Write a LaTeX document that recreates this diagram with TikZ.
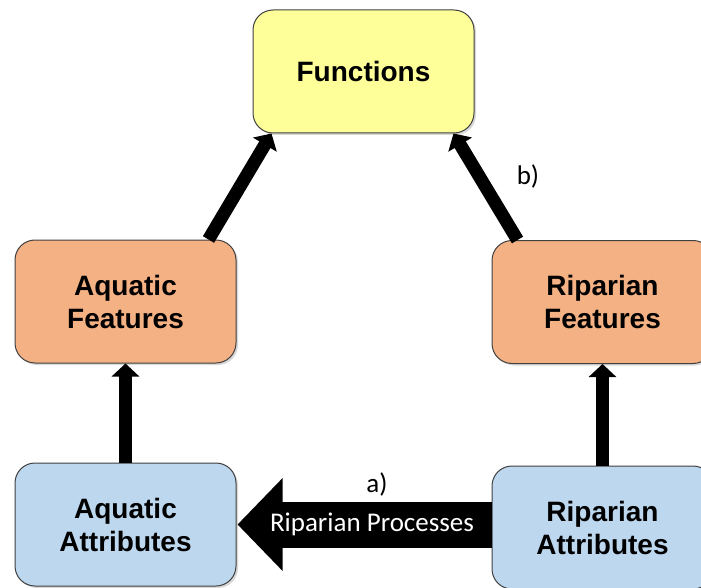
\documentclass[tikz,border=0pt]{standalone}
\usepackage{fontspec}
\setmainfont{Liberation Sans}
\newfontfamily\calibri{Carlito}
\usetikzlibrary{arrows.meta,shadows,calc}
\definecolor{fyellow}{HTML}{FFFF99}
\definecolor{forange}{HTML}{F4B183}
\definecolor{fblue}{HTML}{BDD7EE}
\definecolor{fborder}{HTML}{404040}
\tikzset{
  box/.style={draw=fborder, line width=1pt, rounded corners=20pt,
    minimum width=221pt, minimum height=123pt, align=center,
    font=\fontsize{28}{33}\selectfont\bfseries,
    drop shadow={shadow xshift=2pt, shadow yshift=-2pt, opacity=0.3}},
  conn/.style={line width=13pt, -{Triangle[width=27pt,length=13pt]}},
  bigarrow/.style={line width=46pt, -{Triangle[width=90pt,length=45pt]}},
  lbl/.style={font=\calibri\fontsize{27}{31}\selectfont}
}
\begin{document}
\begin{tikzpicture}[x=1pt,y=-1pt]
\useasboundingbox (0,0) rectangle (701,588);
\node[box, fill=fyellow] (fn) at (363.5,71.5) {Functions};
\node[box, fill=forange] (af) at (125.5,301.5) {Aquatic\\Features};
\node[box, fill=forange] (rf) at (602.5,302) {Riparian\\Features};
\node[box, fill=fblue] (aa) at (125.5,524.5) {Aquatic\\Attributes};
\node[box, fill=fblue] (ra) at (602.5,527.5) {Riparian\\Attributes};
\draw[conn] (aa.north) -- (af.south);
\draw[conn] (ra.north) -- (rf.south);
\draw[conn] ($(af.north east)+(-28,0)$) -- ($(fn.south west)+(19,0)$);
\draw[conn] ($(rf.north west)+(26,0)$) -- ($(fn.south east)+(-21,0)$);
\draw[bigarrow] (ra.west |- aa.east) -- ($(aa.east)+(1,0)$);
\node[lbl, text=white] (rp) at (372,524) {Riparian Processes};
\node[lbl] (la) at (377,484) {a)};
\node[lbl] (lb) at (528,176) {b)};
\end{tikzpicture}
\end{document}
